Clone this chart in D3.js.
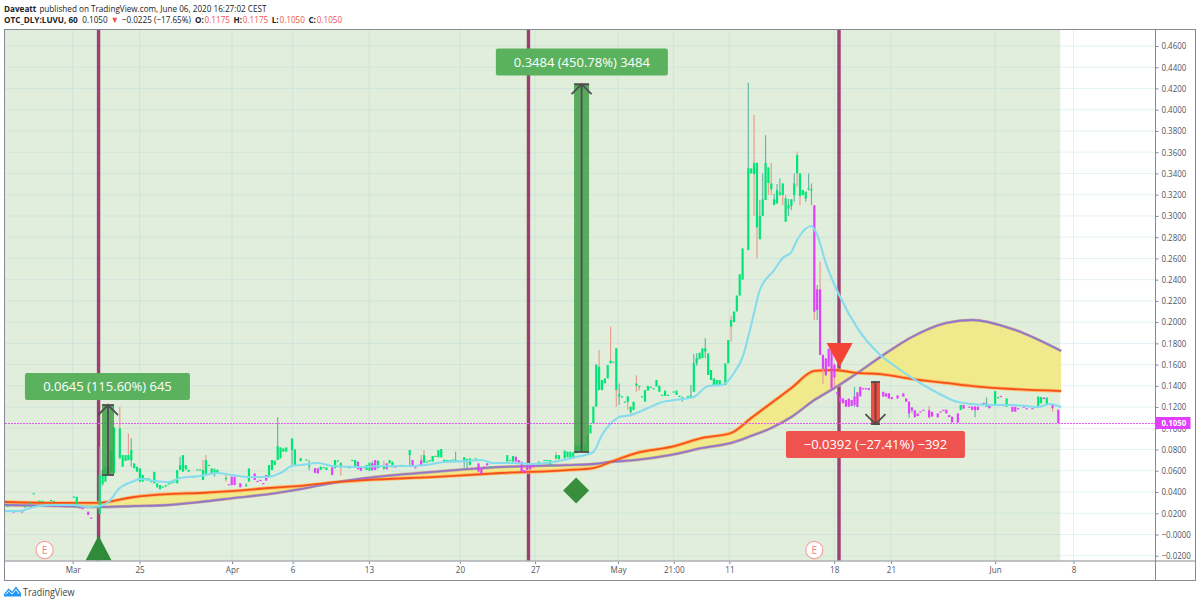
<!DOCTYPE html>
<html><head><meta charset="utf-8">
<script src="https://cdnjs.cloudflare.com/ajax/libs/d3/7.8.5/d3.min.js"></script>
<style>html,body{margin:0;padding:0;background:#fff}svg{display:block}text{font-family:"Open Sans",sans-serif}</style>
</head><body><svg id="c" width="1200" height="605"></svg>
<script>
// prices are in 1/10000 units, x positions are bar slots
const yTickValues=[4600,4400,4200,4000,3800,3600,3400,3200,3000,2800,2600,2400,2200,2000,1800,1600,1400,1200,1000,800,600,400,200,0,-200];
const xTickSlots=[23.6,46.9,79.1,100.2,126.8,158.5,184.7,213.6,233,252.4,288.9,308.7,345,372.3];
const xTickLabels=["Mar","25","Apr","6","13","20","27","May","21:00","11","18","21","Jun","8"];

const slots=[1,3,6,7,9,10,12,13,16,17,24,25,26,27,29,30,33,34,35,36,
37,38,40,41,42,43,44,45,46,47,48,49,50,51,52,53,54,55,56,57,
58,59,60,61,62,63,64,66,67,68,69,70,71,72,73,74,77,78,79,80,
82,84,85,87,88,89,90,91,92,93,94,95,96,97,98,100,101,103,105,106,
108,109,110,111,112,114,115,116,117,119,120,121,122,123,124,125,126,127,128,129,
130,132,133,134,135,136,138,139,140,141,142,143,144,145,146,147,148,149,150,151,
152,153,154,155,156,157,158,160,161,162,164,165,166,167,168,169,175,176,177,178,
179,180,181,182,183,184,185,186,188,189,190,192,193,195,196,197,198,199,200,201,
202,203,204,205,206,207,208,209,210,211,212,213,214,215,216,217,218,219,220,221,
222,223,224,225,226,227,228,229,230,231,233,234,235,236,238,239,240,241,242,243,
244,245,246,247,248,249,251,252,253,254,255,256,257,259,260,261,262,263,264,265,
266,267,268,269,270,271,272,273,274,275,276,277,278,279,280,281,282,283,284,285,
286,287,288,289,290,291,292,293,294,295,296,297,298,299,300,301,303,304,306,307,
308,309,311,313,314,315,316,317,318,319,320,322,323,325,326,327,328,329,330,332,
333,334,336,337,338,339,341,342,343,345,346,347,348,349,351,352,353,355,356,358,
359,360,361,362,363,365,367];
const opens=[268,218,218,260,297,385,316,313,322,313,354,255,257,248,215,160,193,475,497,560,
590,576,717,638,692,700,700,623,591,497,497,526,526,498,482,444,425,448,450,470,
480,490,482,607,591,612,590,535,610,610,513,560,652,575,590,580,520,474,545,545,
482,462,497,576,505,515,484,560,550,607,654,701,717,780,780,795,654,690,703,640,
625,623,607,630,607,632,623,693,632,638,630,699,632,686,640,634,607,600,670,701,
623,620,670,670,632,642,652,643,647,748,701,634,656,700,676,684,686,686,737,727,
727,686,698,698,703,695,690,686,686,654,715,670,623,640,670,640,686,698,686,733,
700,686,607,645,645,654,672,684,698,698,654,717,708,717,727,720,725,764,780,780,
780,780,952,1047,1204,1360,1360,1423,1470,1612,1625,1360,1300,1298,1248,1250,1150,1172,1400,1395,
1298,1250,1355,1388,1373,1392,1345,1312,1305,1312,1343,1315,1302,1280,1290,1300,1345,1612,1650,1660,
1722,1502,1455,1408,1408,1408,1408,1612,1957,2000,2100,2250,2400,2678,3400,3394,2892,2780,3000,3150,
3310,3250,3102,3118,3200,3196,2945,3070,3094,3196,3400,3187,3196,3165,3250,3240,3100,2308,2308,1690,
1657,1750,1737,1600,1340,1300,1280,1266,1280,1266,1300,1340,1390,1378,1378,1378,1440,1407,1344,1330,
1330,1294,1310,1330,1282,1250,1195,1170,1140,1160,1175,1170,1156,1140,1160,1175,1175,1125,1110,1140,
1172,1220,1205,1205,1205,1205,1240,1203,1220,1220,1290,1305,1220,1203,1203,1203,1190,1205,1190,1190,
1205,1203,1235,1290,1220,1228,1175];
const closes=[272,212,214,264,301,389,320,317,326,317,358,356,253,244,183,156,560,607,638,638,
790,1009,1000,748,748,748,795,670,638,623,560,530,530,502,591,482,465,452,465,482,
497,500,607,654,748,654,610,548,614,614,607,701,656,623,610,610,535,470,465,465,
444,466,623,513,501,511,480,507,654,701,695,833,820,811,820,905,802,720,707,650,
580,575,640,634,632,560,701,697,676,642,634,703,701,614,600,630,654,676,607,607,
695,650,614,701,686,638,656,647,643,795,654,630,652,654,748,688,700,739,741,795,
805,705,702,702,707,705,694,727,710,717,719,591,570,636,650,644,748,702,739,686,
670,591,576,607,612,632,668,688,702,702,700,748,748,790,780,780,775,842,842,858,
842,937,1031,1204,1602,1580,1455,1470,1596,1637,1629,1753,1320,1302,1252,1300,1204,1250,1423,1400,
1302,1360,1400,1392,1377,1455,1400,1316,1355,1316,1347,1355,1306,1290,1305,1310,1612,1660,1712,1753,
1753,1706,1549,1470,1455,1455,1612,1832,2020,2100,2250,2450,2694,3448,3448,3500,3500,3000,3156,3500,
3457,3306,3156,3244,3220,3306,3165,3100,3156,3306,3573,3400,3244,3228,3260,3250,2098,2114,1690,1560,
1500,1580,1376,1480,1320,1250,1235,1203,1203,1210,1220,1200,1300,1374,1374,1360,1265,1330,1298,1298,
1280,1274,1280,1298,1250,1140,1170,1103,1115,1150,1165,1103,1110,1103,1150,1165,1140,1105,1055,1053,
1220,1185,1195,1172,1170,1172,1230,1235,1188,1350,1294,1300,1215,1282,1156,1156,1180,1195,1180,1180,
1195,1300,1295,1275,1290,1188,1050];

const wickSlots=[33,34,40,43,44,61,69,70,73,77,84,95,100,106,117,128,132,141,145,146,157,160,161,192,207,211,213,214,217,218,220,221,228,236,239,240,241,244,253,259,261,262,263,264,265,266,267,268,269,270,271,272,273,274,275,276,277,279,280,281,282,283,284,285,286,289,296,315,316,322,338,342,365];
const wickHighs=[827,620,1204,952,905,733,701,748,623,560,482,1103,905,700,676,690,695,795,748,795,780,727,710,780,1737,1957,1753,1423,1300,1204,1500,1400,1400,1300,1408,1700,1706,1847,2060,4255,3950,3500,3150,3400,3760,3457,3500,3210,3300,3354,3306,3196,3160,3156,3400,3604,3400,3228,3400,3306,3100,2350,2569,1700,1660,1610,1390,1250,1200,1210,1205,1290,1228];
const wickLows=[193,460,717,700,638,607,513,560,545,497,450,701,654,607,551,600,607,640,654,676,680,632,625,700,1360,1612,1204,1220,1172,1110,1345,1355,1345,1250,1282,1345,1590,1660,1816,2678,3000,2600,2780,3000,3150,3196,3196,3102,3118,3190,3102,2945,3000,3055,3134,3275,3102,3134,3240,3102,2020,2020,1690,1420,1490,1390,1200,1100,1150,1095,1103,1203,1156];
const salmonWickSlots=[40,43,69,70,77,117,132,145,146,192,207,211,213,217,218,220,221,228,253,261,262,266,267,271,272,276,277,282,284,285,289,322,365];

const fastSlots=[0,5,10,16,24,29,33,36,40,45,47,52,57,61,68,74,79,85,91,96,100,103,109,114,124,132,141,149,153,161,166,170,177,183,191,199,205,208,212,214,218,224,228,236,240,245,250,254,257,260,263,268,271,274,276,281,283,286,291,297,305,311,316,325,332,342,351,360,364,368];
const fastValues=[221,221,259,278,278,259,268,306,438,504,523,504,494,532,551,579,560,541,541,579,645,654,673,645,636,645,645,664,683,692,702,673,673,664,683,730,777,937,1069,1106,1125,1191,1238,1276,1295,1398,1408,1521,1671,1973,2302,2490,2604,2660,2773,2905,2820,2556,2236,1944,1690,1568,1474,1332,1248,1219,1219,1200,1229,1200];

const slowSlots=[0,19,32,45,57,68,80,92,103,114,126,149,173,196,205,211,220,232,243,253,260,267,274,282,289,297,305,316,328,337,351,368];
const redValues=[306,297,297,353,381,391,410,438,457,490,513,541,579,607,626,683,767,824,909,956,1097,1238,1379,1540,1549,1521,1511,1464,1427,1398,1370,1351];
const purpleValues=[278,268,259,268,278,306,344,381,428,485,532,589,636,654,664,683,702,749,815,862,928,1003,1106,1266,1379,1521,1671,1860,1992,2020,1935,1728];

const eventLineSlots=[32.6,182.4,290.6];
const earningsSlots=[13.8,282];
const lastPrice=1050;
const bgEndSlot=367.7;

const measureFrom=[560,777,1436];
const measureTo=[1219,4240,1040];
const measureSlots=[35.9,200.9,303.3];
const measureLabels=["0.0645 (115.60%) 645","0.3484 (450.78%) 3484","\u22120.0392 (\u221227.41%) \u2212392"];
const measureLabelSlots=[35.7,201,303.3];
const measureLabelPrices=[1394,4449,847];

const L=5,R=1155.5,T=30,B=561;
const uiFont='Roboto,sans-serif';
const x=d3.scaleLinear().domain([0,100]).range([5,292]);
const y=d3.scaleLinear().domain([0,4600]).range([534.5,46]);
const svg=d3.select("#c");
const fmt=d=>(d<=0?"\u2212":"")+(Math.abs(d)/10000).toFixed(4);
// squeeze real text horizontally, the reference screenshot has narrow glyphs
function squeeze(sel,k){
  sel.each(function(){
    this.setAttribute("lengthAdjust","spacingAndGlyphs");
    this.setAttribute("textLength",this.getComputedTextLength()*k);
  });
}

svg.append("defs").append("clipPath").attr("id","plot").append("rect")
  .attr("x",L).attr("y",T).attr("width",R-L).attr("height",B-T);

const plot=svg.append("g").attr("clip-path","url(#plot)");
plot.append("rect").attr("x",L).attr("y",T).attr("width",x(bgEndSlot)-L).attr("height",B-T).attr("fill","#e1eedb");
const gridColor="rgba(170,212,225,0.32)";
plot.selectAll("line.h").data(yTickValues).join("line").attr("class","h")
  .attr("x1",L).attr("x2",R).attr("y1",d=>y(d)).attr("y2",d=>y(d)).attr("stroke",gridColor);
plot.selectAll("line.v").data(xTickSlots).join("line").attr("class","v")
  .attr("y1",T).attr("y2",B).attr("x1",d=>x(d)).attr("x2",d=>x(d)).attr("stroke",gridColor);

plot.selectAll("line.ev").data(eventLineSlots).join("line").attr("class","ev")
  .attr("x1",d=>x(d)).attr("x2",d=>x(d)).attr("y1",T).attr("y2",B)
  .attr("stroke","#9c3f72").attr("stroke-width",3.4);

// band between the two slow averages
const slow=slowSlots.map((s,i)=>({s,r:redValues[i],p:purpleValues[i]}));
const curve=d3.curveMonotoneX;
plot.append("path").datum(slow).attr("fill","#f0ea8c")
  .attr("d",d3.area().x(d=>x(d.s)).y0(d=>y(d.r)).y1(d=>y(d.p)).curve(curve));
const redLine=d3.line().x(d=>x(d.s)).y(d=>y(d.r)).curve(curve);
const purLine=d3.line().x(d=>x(d.s)).y(d=>y(d.p)).curve(curve);
plot.append("path").datum(slow).attr("fill","none").attr("stroke","#ffb860").attr("stroke-width",3.6).attr("d",redLine);
plot.append("path").datum(slow).attr("fill","none").attr("stroke","#c9b38a").attr("stroke-width",3).attr("d",purLine);
plot.append("path").datum(slow).attr("fill","none").attr("stroke","#9575cd").attr("stroke-width",1.8).attr("d",purLine);
plot.append("path").datum(slow).attr("fill","none").attr("stroke","#f4511e").attr("stroke-width",1.8).attr("d",redLine);

// candles
const wickBySlot=new Map(wickSlots.map((s,i)=>[s,[wickHighs[i],wickLows[i]]]));
const candles=slots.map((s,i)=>{
  const w=wickBySlot.get(s);
  return {s,o:opens[i],c:closes[i],h:w?w[0]:Math.max(opens[i],closes[i]),l:w?w[1]:Math.min(opens[i],closes[i])};
});
const salmon=new Set(salmonWickSlots);
plot.selectAll("line.w").data(candles.filter(d=>wickBySlot.has(d.s))).join("line").attr("class","w")
  .attr("x1",d=>x(d.s)).attr("x2",d=>x(d.s)).attr("y1",d=>y(d.h)).attr("y2",d=>y(d.l))
  .attr("stroke",d=>salmon.has(d.s)?"#e9a08f":"#6bb5a8").attr("stroke-width",1.2);
plot.selectAll("rect.b").data(candles).join("rect").attr("class","b")
  .attr("x",d=>x(d.s)-1.1).attr("width",2.2)
  .attr("y",d=>y(Math.max(d.o,d.c)))
  .attr("height",d=>Math.max(1.2,Math.abs(y(d.o)-y(d.c))))
  .attr("fill",d=>d.c>=d.o?"#00e676":"#e040fb");

// fast average
plot.append("path").datum(fastSlots.map((s,i)=>({s,v:fastValues[i]})))
  .attr("fill","none").attr("stroke","#85dcee").attr("stroke-width",2.1)
  .attr("d",d3.line().x(d=>x(d.s)).y(d=>y(d.v)).curve(curve));

// last price
plot.append("line").attr("x1",L).attr("x2",R).attr("y1",Math.round(y(lastPrice))+0.5).attr("y2",Math.round(y(lastPrice))+0.5)
  .attr("stroke","#e858f8").attr("stroke-dasharray","2 1").attr("stroke-width",1).attr("shape-rendering","crispEdges");

// measure tools
measureSlots.forEach((s,i)=>{
  const up=measureTo[i]>measureFrom[i], cx=x(s), hw=[6,7.5,4.5][i];
  const y0=y(measureFrom[i]), y1=y(measureTo[i]);
  const col=up?"#3f9f46":"#f44336";
  plot.append("rect").attr("x",cx-hw).attr("width",hw*2).attr("y",Math.min(y0,y1)).attr("height",Math.abs(y1-y0))
    .attr("fill",col).attr("fill-opacity",up?0.85:0.95);
  const g=plot.append("g").attr("fill","none").attr("stroke","#4d4d50").attr("stroke-width",1.8);
  g.append("line").attr("x1",cx).attr("x2",cx).attr("y1",y0).attr("y2",y1);
  g.append("line").attr("x1",cx-hw).attr("x2",cx+hw).attr("y1",y0).attr("y2",y0);
  g.append("line").attr("x1",cx-hw).attr("x2",cx+hw).attr("y1",y1).attr("y2",y1);
  const dir=up?1:-1;
  g.append("path").attr("d",`M${cx-10},${y1+dir*10}L${cx},${y1}L${cx+10},${y1+dir*10}`);
});
measureLabels.forEach((t,i)=>{
  const cx=x(measureLabelSlots[i]), cy=y(measureLabelPrices[i]);
  const w=[165,172,179][i];
  const g=svg.append("g");
  g.append("rect").attr("x",cx-w/2).attr("y",cy-13.5).attr("width",w).attr("height",27).attr("rx",2)
    .attr("fill",i===2?"#ef5350":"#5ab25f");
  g.append("text").attr("x",cx).attr("y",cy+4.8).attr("text-anchor","middle").attr("fill","#fff")
    .attr("font-size",13).text(t);
});

// markers
svg.append("path").attr("d","M0,-12.5L13,12.5L-13,12.5Z").attr("fill","#2f8a3a")
  .attr("transform",`translate(${x(32.6)},${548})`);
svg.append("path").attr("d","M-13,-12L13,-12L0,12Z").attr("fill","#f44336")
  .attr("transform",`translate(${x(290.8)},${355})`);
svg.append("path").attr("d","M0,-13L13,0L0,13L-13,0Z").attr("fill","#388e3c")
  .attr("transform",`translate(${x(199)},${490.5})`);
earningsSlots.forEach(s=>{
  const g=svg.append("g").attr("transform",`translate(${x(s)},550)`);
  g.append("circle").attr("r",8.6).attr("fill","#fff").attr("stroke","#f5a3a3").attr("stroke-width",1.2);
  g.append("text").attr("y",3.6).attr("text-anchor","middle").attr("font-size",10).attr("fill","#f27f7f").text("E");
});

// axes
const yAxis=svg.append("g").attr("transform",`translate(${R},0)`)
  .call(d3.axisRight(y).tickValues(yTickValues).tickFormat(fmt).tickSize(3).tickPadding(3));
yAxis.select(".domain").remove();
yAxis.selectAll("line").attr("stroke","#868993");
yAxis.selectAll("text").attr("font-size",9).attr("fill","#50535e").attr("font-family",uiFont).call(squeeze,0.88);

const xAxis=svg.append("g").attr("transform",`translate(0,${B})`)
  .call(d3.axisBottom(x).tickValues(xTickSlots).tickFormat((d,i)=>xTickLabels[i]).tickSize(3).tickPadding(3));
xAxis.select(".domain").remove();
xAxis.selectAll("line").attr("stroke","#868993");
xAxis.selectAll("text").attr("font-size",9).attr("fill","#50535e").attr("font-family",uiFont).call(squeeze,0.9);

// frame
svg.append("rect").attr("x",4.5).attr("y",29.5).attr("width",1191).attr("height",551).attr("fill","none").attr("stroke","#868993");
svg.append("line").attr("x1",5).attr("x2",1195).attr("y1",561).attr("y2",561).attr("stroke","#aeb0b5").attr("stroke-width",1.5);
svg.append("line").attr("x1",R).attr("x2",R).attr("y1",29).attr("y2",580).attr("stroke","#868993");

// price tag
svg.append("rect").attr("x",R).attr("y",y(lastPrice)-6).attr("width",35).attr("height",12).attr("fill","#e040fb");
svg.append("text").attr("x",R+6).attr("y",y(lastPrice)+3.4).attr("font-size",9).attr("font-weight",700).attr("fill","#fff").attr("font-family",uiFont).text(fmt(lastPrice)).call(squeeze,0.88);

// header: one text element per run, laid out left to right
function runs(yPos,list){
  let cx=4;
  list.forEach(r=>{
    const t=svg.append("text").attr("x",cx).attr("y",yPos).attr("font-size",9).attr("font-family",uiFont)
      .attr("fill",r.c||"#222").attr("font-weight",r.b?700:400).text(r.t);
    const w=t.node().getComputedTextLength()*0.905;
    t.call(squeeze,0.905);
    cx+=w+(r.g||0);
  });
}
runs(12,[{t:"Daveatt",b:1,g:3},{t:"published on TradingView.com, June 06, 2020 16:27:02 CEST"}]);
const red="#ef5350";
runs(23,[{t:"OTC_DLY:LUVU, 60",b:1,g:4.5},{t:"0.1050",g:3},{t:"\u25BC",c:red,g:3},{t:"\u22120.0225 (\u221217.65%)",g:4},
  {t:"O:",b:1,g:0.8},{t:"0.1175",c:red,g:3.5},{t:"H:",b:1,g:0.8},{t:"0.1175",c:red,g:3.5},{t:"L:",b:1,g:0.8},{t:"0.1050",c:red,g:3.5},{t:"C:",b:1,g:0.8},{t:"0.1050",c:red}]);

// footer logo
const logo=svg.append("g").attr("transform","translate(4,586)");
logo.append("path").attr("d","M0,8 L4.5,2.5 L8,5.5 L12,0.5 L17,7 L17,10.5 L0,10.5Z").attr("fill","#2196f3");
logo.append("path").attr("d","M2,8.5 L4.5,5 L8,8 L12,3.5 L15,8").attr("fill","none").attr("stroke","#fff").attr("stroke-width",1);
svg.append("text").attr("x",23).attr("y",596).attr("font-size",10).attr("fill","#444").attr("font-family",uiFont).text("TradingView").call(squeeze,0.9);
</script></body></html>
